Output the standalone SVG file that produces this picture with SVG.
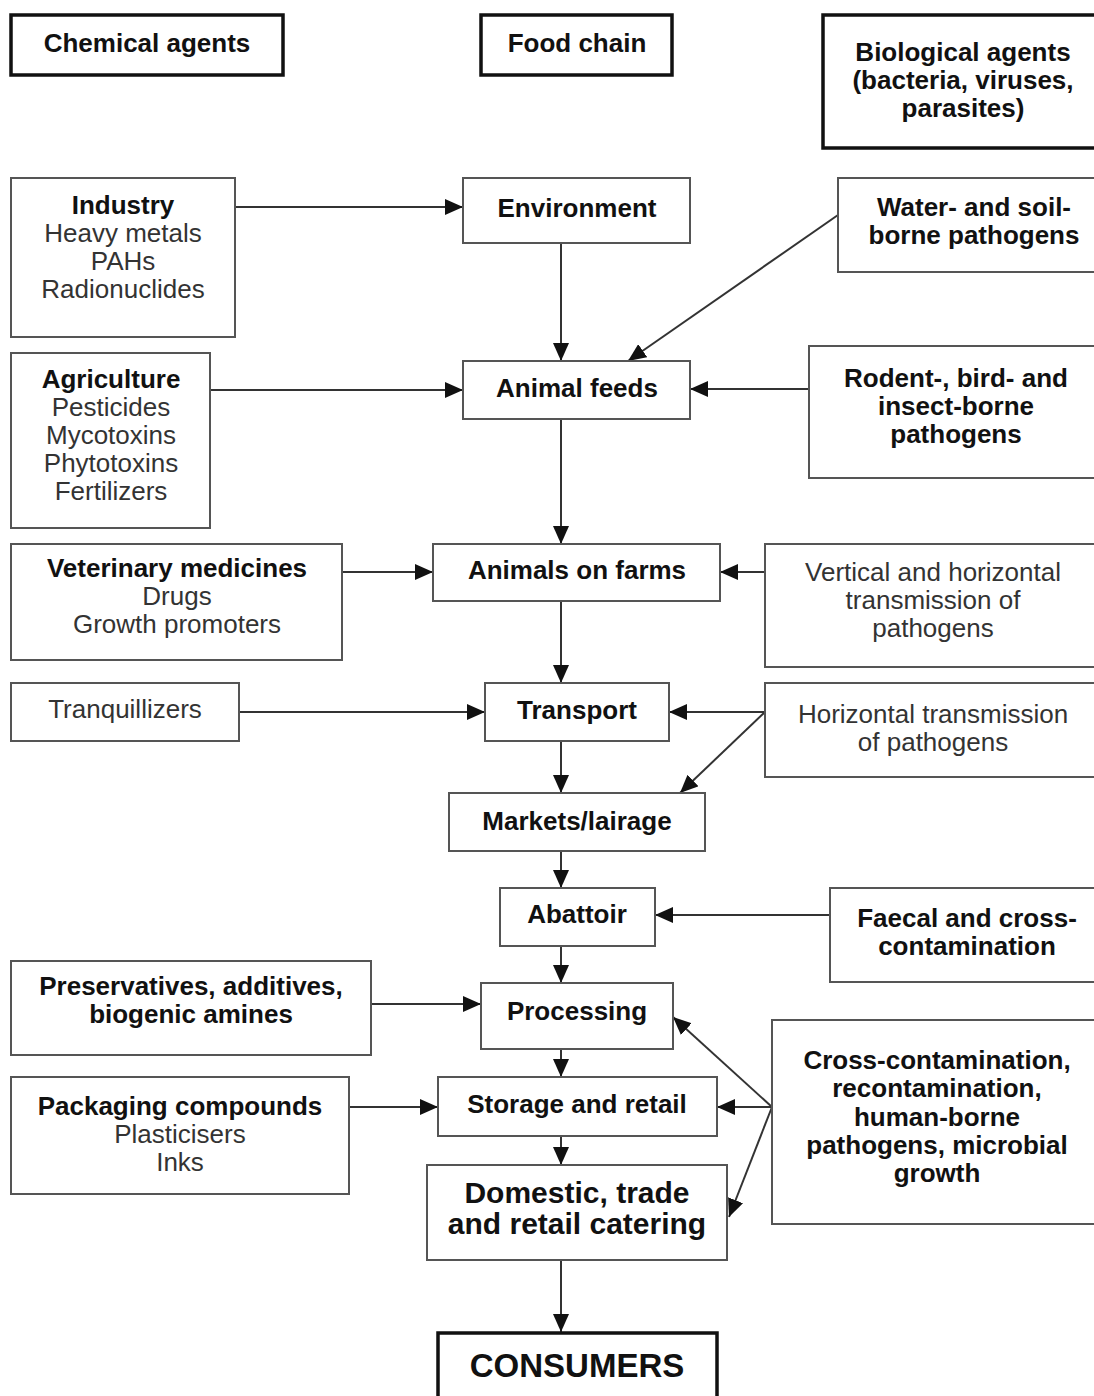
<svg xmlns="http://www.w3.org/2000/svg" width="1094" height="1396" viewBox="0 0 1094 1396">
<defs>
<marker id="ah" markerWidth="18" markerHeight="16" refX="18" refY="8" orient="auto" markerUnits="userSpaceOnUse"><path d="M0,0 L18,8 L0,16 Z" fill="#111"/></marker>
<style>
.b{fill:#fff;stroke:#555;stroke-width:2}
.k{fill:#fff;stroke:#111;stroke-width:3.5}
text{font-family:"Liberation Sans",Arial,sans-serif;font-size:26px;text-anchor:middle}
.h{font-weight:bold;fill:#111}
.r{fill:#333}
.c{stroke:#333;stroke-width:2;fill:none;marker-end:url(#ah)}
</style>
</defs>
<rect width="1094" height="1396" fill="#fff"/>
<g id="connectors">
<line class="c" x1="235" y1="207" x2="463" y2="207"/>
<line class="c" x1="561" y1="243" x2="561" y2="361"/>
<line class="c" x1="838" y1="215" x2="628" y2="361"/>
<line class="c" x1="210" y1="390" x2="463" y2="390"/>
<line class="c" x1="809" y1="389" x2="690" y2="389"/>
<line class="c" x1="561" y1="419" x2="561" y2="544"/>
<line class="c" x1="342" y1="572" x2="433" y2="572"/>
<line class="c" x1="765" y1="572" x2="720" y2="572"/>
<line class="c" x1="561" y1="601" x2="561" y2="683"/>
<line class="c" x1="239" y1="712" x2="485" y2="712"/>
<line class="c" x1="765" y1="712" x2="669" y2="712"/>
<line class="c" x1="765" y1="712" x2="680" y2="793"/>
<line class="c" x1="561" y1="741" x2="561" y2="793"/>
<line class="c" x1="561" y1="851" x2="561" y2="888"/>
<line class="c" x1="830" y1="915" x2="655" y2="915"/>
<line class="c" x1="561" y1="946" x2="561" y2="983"/>
<line class="c" x1="371" y1="1004" x2="481" y2="1004"/>
<line class="c" x1="561" y1="1049" x2="561" y2="1077"/>
<line class="c" x1="349" y1="1107" x2="438" y2="1107"/>
<line class="c" x1="772" y1="1107" x2="717" y2="1107"/>
<line class="c" x1="772" y1="1107" x2="673" y2="1017"/>
<line class="c" x1="772" y1="1107" x2="729" y2="1217"/>
<line class="c" x1="561" y1="1136" x2="561" y2="1165"/>
<line class="c" x1="561" y1="1260" x2="561" y2="1332"/>
</g>
<g id="chemical-agents"><rect class="k" x="11" y="15" width="272" height="60"/><text class="h" x="147" y="52">Chemical agents</text></g>
<g id="food-chain"><rect class="k" x="481" y="15" width="191" height="60"/><text class="h" x="577" y="52">Food chain</text></g>
<g id="biological-agents"><rect class="k" x="823" y="15" width="275" height="133"/><text class="h" x="963" y="61">Biological agents</text><text class="h" x="963" y="89">(bacteria, viruses,</text><text class="h" x="963" y="117">parasites)</text></g>
<g id="industry"><rect class="b" x="11" y="178" width="224" height="159"/><text class="h" x="123" y="214">Industry</text><text class="r" x="123" y="242">Heavy metals</text><text class="r" x="123" y="270">PAHs</text><text class="r" x="123" y="298">Radionuclides</text></g>
<g id="environment"><rect class="b" x="463" y="178" width="227" height="65"/><text class="h" x="577" y="217">Environment</text></g>
<g id="water-soil"><rect class="b" x="838" y="178" width="260" height="94"/><text class="h" x="974" y="216">Water- and soil-</text><text class="h" x="974" y="244">borne pathogens</text></g>
<g id="agriculture"><rect class="b" x="11" y="353" width="199" height="175"/><text class="h" x="111" y="388">Agriculture</text><text class="r" x="111" y="416">Pesticides</text><text class="r" x="111" y="444">Mycotoxins</text><text class="r" x="111" y="472">Phytotoxins</text><text class="r" x="111" y="500">Fertilizers</text></g>
<g id="animal-feeds"><rect class="b" x="463" y="361" width="227" height="58"/><text class="h" x="577" y="397">Animal feeds</text></g>
<g id="rodent"><rect class="b" x="809" y="346" width="289" height="132"/><text class="h" x="956" y="387">Rodent-, bird- and</text><text class="h" x="956" y="415">insect-borne</text><text class="h" x="956" y="443">pathogens</text></g>
<g id="veterinary"><rect class="b" x="11" y="544" width="331" height="116"/><text class="h" x="177" y="577">Veterinary medicines</text><text class="r" x="177" y="605">Drugs</text><text class="r" x="177" y="633">Growth promoters</text></g>
<g id="animals-on-farms"><rect class="b" x="433" y="544" width="287" height="57"/><text class="h" x="577" y="579">Animals on farms</text></g>
<g id="vertical"><rect class="b" x="765" y="544" width="333" height="123"/><text class="r" x="933" y="581">Vertical and horizontal</text><text class="r" x="933" y="609">transmission of</text><text class="r" x="933" y="637">pathogens</text></g>
<g id="tranquillizers"><rect class="b" x="11" y="683" width="228" height="58"/><text class="r" x="125" y="718">Tranquillizers</text></g>
<g id="transport"><rect class="b" x="485" y="683" width="184" height="58"/><text class="h" x="577" y="719">Transport</text></g>
<g id="horizontal"><rect class="b" x="765" y="683" width="333" height="94"/><text class="r" x="933" y="723">Horizontal transmission</text><text class="r" x="933" y="751">of pathogens</text></g>
<g id="markets"><rect class="b" x="449" y="793" width="256" height="58"/><text class="h" x="577" y="830">Markets/lairage</text></g>
<g id="abattoir"><rect class="b" x="500" y="888" width="155" height="58"/><text class="h" x="577" y="923">Abattoir</text></g>
<g id="faecal"><rect class="b" x="830" y="888" width="268" height="94"/><text class="h" x="967" y="927">Faecal and cross-</text><text class="h" x="967" y="955">contamination</text></g>
<g id="preservatives"><rect class="b" x="11" y="961" width="360" height="94"/><text class="h" x="191" y="995">Preservatives, additives,</text><text class="h" x="191" y="1023">biogenic amines</text></g>
<g id="processing"><rect class="b" x="481" y="983" width="192" height="66"/><text class="h" x="577" y="1020">Processing</text></g>
<g id="cross-contamination"><rect class="b" x="772" y="1020" width="326" height="204"/><text class="h" x="937" y="1069">Cross-contamination,</text><text class="h" x="937" y="1097">recontamination,</text><text class="h" x="937" y="1126">human-borne</text><text class="h" x="937" y="1154">pathogens, microbial</text><text class="h" x="937" y="1182">growth</text></g>
<g id="packaging"><rect class="b" x="11" y="1077" width="338" height="117"/><text class="h" x="180" y="1115">Packaging compounds</text><text class="r" x="180" y="1143">Plasticisers</text><text class="r" x="180" y="1171">Inks</text></g>
<g id="storage"><rect class="b" x="438" y="1077" width="279" height="59"/><text class="h" x="577" y="1113">Storage and retail</text></g>
<g id="domestic"><rect class="b" x="427" y="1165" width="300" height="95"/><text class="h" x="577" y="1203" style="font-size:30px">Domestic, trade</text><text class="h" x="577" y="1234" style="font-size:30px">and retail catering</text></g>
<g id="consumers"><rect class="k" x="438" y="1333" width="279" height="70"/><text class="h" x="577" y="1377" style="font-size:33px">CONSUMERS</text></g>
</svg>
